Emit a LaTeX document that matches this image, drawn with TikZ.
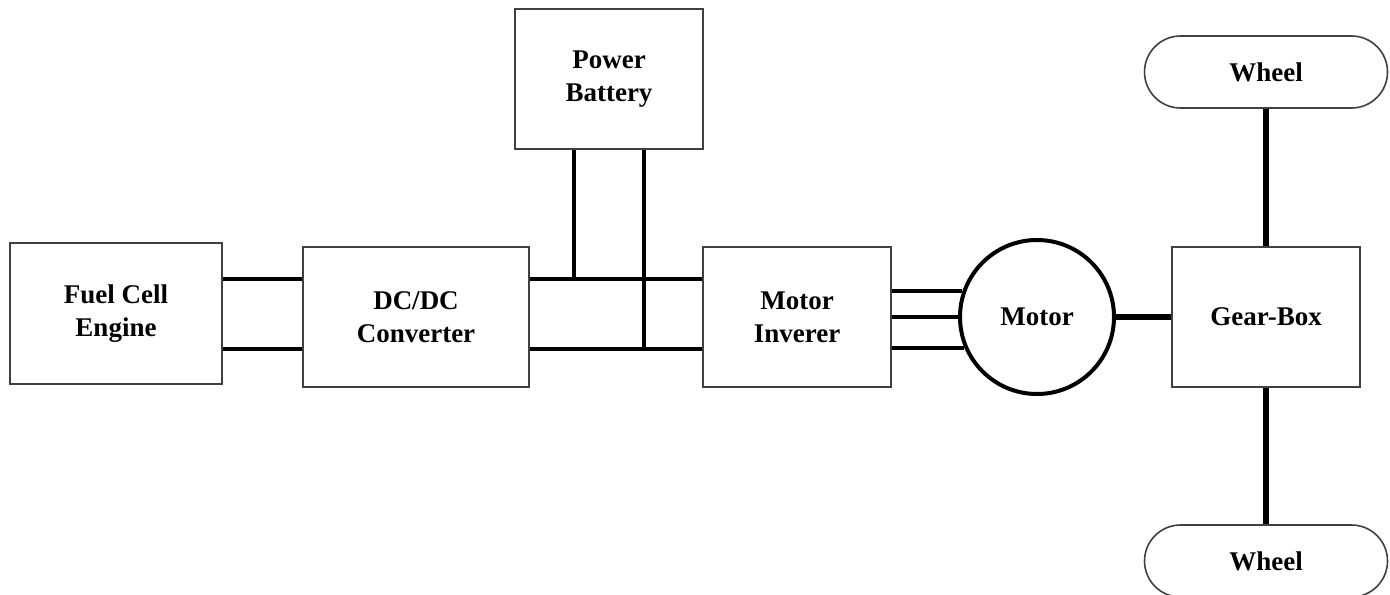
\documentclass[tikz,border=0pt]{standalone}
\usepackage{fontspec}
\setmainfont{Liberation Serif}
\usetikzlibrary{positioning}

\tikzset{
  block/.style={draw=black!75, line width=0.8pt, fill=white, align=center,
    inner sep=0pt, font=\fontsize{13.5}{16.5}\selectfont\bfseries},
  wheelbox/.style={block, rounded corners=18pt, minimum width=121.5pt, minimum height=36pt},
  wire/.style={black, line width=2pt},
  shaft/.style={black, line width=3pt}
}

\begin{document}
\begin{tikzpicture}[x=0.5pt, y=-0.5pt]

\useasboundingbox (0,0) rectangle (1390,594);

% blocks
\node[block, minimum width=106pt, minimum height=70.5pt] (fce) at (116,313.5) {Fuel Cell\\Engine};
\node[block, minimum width=113pt, minimum height=70pt] (conv) at (416,317) {DC/DC\\Converter};
\node[block, minimum width=94pt, minimum height=70pt] (bat) at (609,79) {Power\\Battery};
\node[block, minimum width=94pt, minimum height=70pt] (inv) at (797,317) {Motor\\Inverer};
\node[block, circle, draw=black, line width=2pt, minimum size=77pt] (motor) at (1037,317) {Motor};
\node[block, minimum width=94pt, minimum height=70pt] (gear) at (1266,317) {Gear-Box};
\node[wheelbox] (wheelT) at (1266,72) {Wheel};
\node[wheelbox] (wheelB) at (1266,561) {Wheel};

% bus levels and battery taps
\coordinate (busA) at (0,279);
\coordinate (busB) at (0,349);
\coordinate (tapA) at (574,0);
\coordinate (tapB) at (644,0);

\foreach \b in {busA,busB} {
    \draw[wire] (fce.east |- \b) -- (conv.west |- \b);
    \draw[wire] (conv.east |- \b) -- (inv.west |- \b);
}
\draw[wire] (bat.south -| tapA) -- (tapA |- busA);
\draw[wire] (bat.south -| tapB) -- (tapB |- busB);

% three phases
\foreach \a in {161,180,203.7} {
    \draw[wire] (inv.east |- motor.\a) -- (motor.\a);
}

\draw[shaft] (motor.east) -- (gear.west);
\draw[shaft] (wheelT.south) -- (gear.north);
\draw[shaft] (gear.south) -- (wheelB.north);

\end{tikzpicture}
\end{document}
